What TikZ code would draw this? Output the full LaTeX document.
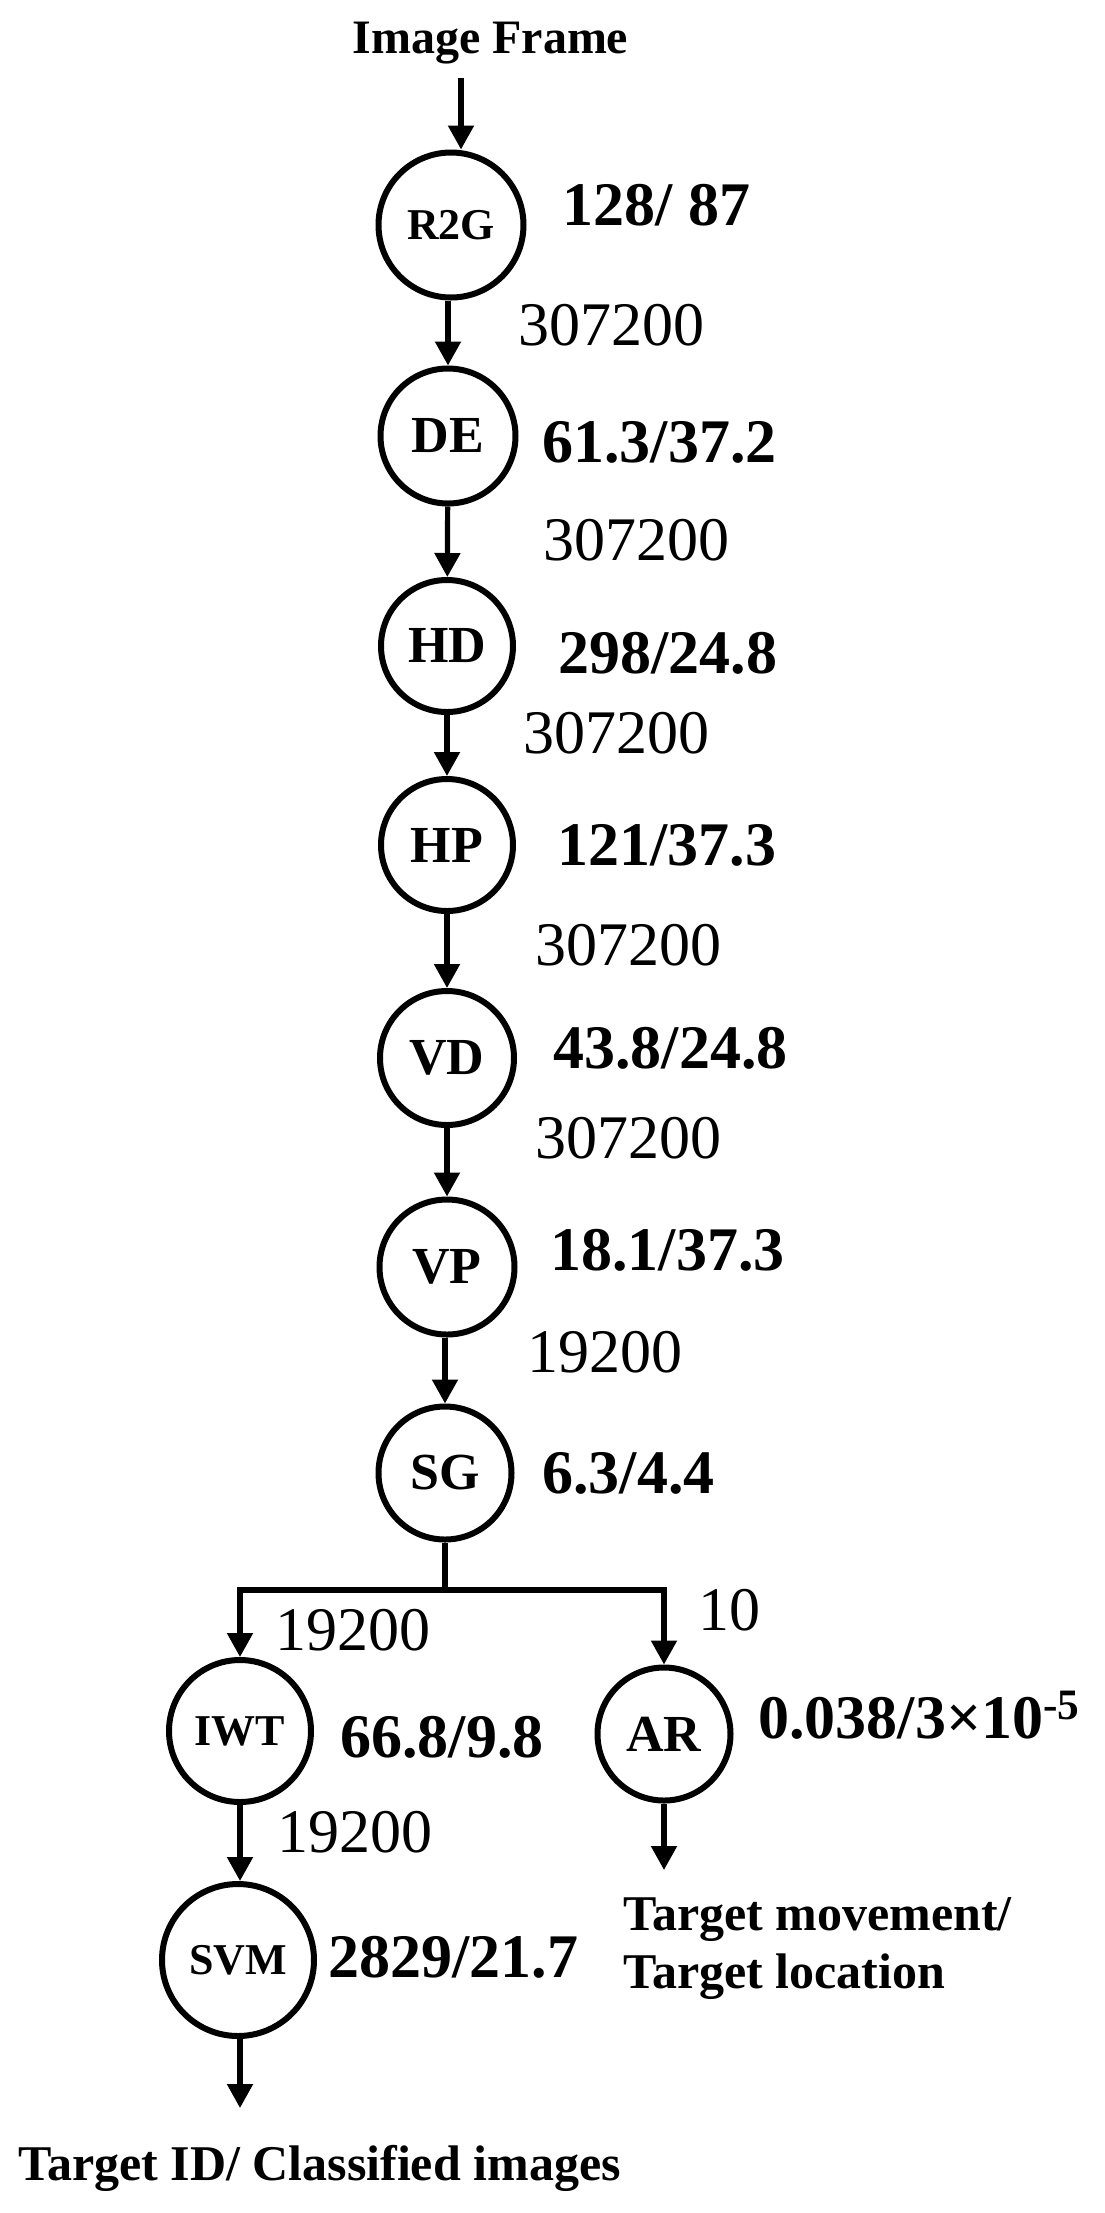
\documentclass[tikz,border=0pt]{standalone}
\usepackage{fontspec}
\setmainfont{Liberation Serif}
\usetikzlibrary{arrows.meta}
\begin{document}
\begin{tikzpicture}[x=0.5pt,y=-0.5pt,
  proc/.style={circle,draw,line width=3pt,inner sep=0pt,font=\fontsize{26}{30}\selectfont\bfseries},
  smalltxt/.style={font=\fontsize{22}{26}\selectfont\bfseries},
  ratio/.style={anchor=base west,inner sep=0pt,font=\fontsize{31}{36}\selectfont\bfseries},
  cnt/.style={anchor=base west,inner sep=0pt,font=\fontsize{31}{36}\selectfont},
  outtxt/.style={anchor=base west,inner sep=0pt,font=\fontsize{25}{29}\selectfont\bfseries},
  arr/.style={line width=2.6pt,-{Triangle[width=12.5pt,length=12pt]}},
  wire/.style={line width=2.8pt}]
\useasboundingbox (0,0) rectangle (1104,2213);

% title
\node[outtxt,font=\fontsize{24}{28}\selectfont\bfseries] (IF) at (352,53) {Image Frame};

% process nodes
\node[proc,smalltxt,minimum size=72.5pt] (R2G) at (451,225) {R2G};
\node[proc,minimum size=67.5pt] (DE) at (448,436) {DE};
\node[proc,minimum size=66pt] (HD) at (447,646) {HD};
\node[proc,minimum size=66pt] (HP) at (447,845) {HP};
\node[proc,minimum size=67pt] (VD) at (447,1058) {VD};
\node[proc,minimum size=67.5pt] (VP) at (447,1267) {VP};
\node[proc,minimum size=66.5pt] (SG) at (445,1473) {SG};
\node[proc,smalltxt,minimum size=71pt] (IWT) at (240,1731) {IWT};
\node[proc,minimum size=66.5pt] (AR) at (664,1734) {AR};
\node[proc,smalltxt,minimum size=76pt] (SVM) at (238,1960) {SVM};

% connectors
\coordinate (in) at (461,78);
\draw[arr] (in) -- (in |- R2G.north);
\draw[arr] (R2G.south -| DE) -- (DE.north);
\draw[arr] (DE) -- (HD);
\draw[arr] (HD) -- (HP);
\draw[arr] (HP) -- (VD);
\draw[arr] (VD) -- (VP);
\draw[arr] (VP.south -| SG) -- (SG.north);
\coordinate (br) at (445,1590);
\draw[wire] (SG.south) -- (br);
\draw[arr] (br) -| (IWT.north);
\draw[arr] (br) -| (AR.north);
\draw[arr] (IWT.south) -- (IWT.south |- SVM.north);
\coordinate (outL) at (240,2108);
\draw[arr] (SVM.south -| outL) -- (outL);
\coordinate (outR) at (664,1870);
\draw[arr] (AR.south) -- (outR);

% ratio labels
\node[ratio] (l1) at (562,225) {128/ 87};
\node[ratio] (l2) at (542,462) {61.3/37.2};
\node[ratio] (l3) at (558,673) {298/24.8};
\node[ratio] (l4) at (557,865) {121/37.3};
\node[ratio] (l5) at (553,1068) {43.8/24.8};
\node[ratio] (l6) at (550,1270) {18.1/37.3};
\node[ratio] (l7) at (542,1493) {6.3/4.4};
\node[ratio] (l8) at (340,1757) {66.8/9.8};
\node[ratio] (l9) at (758,1738) {0.038/3×10\textsuperscript{-5}};
\node[ratio] (l10) at (328,1977) {2829/21.7};

% data-size labels
\node[cnt] (c1) at (518,345) {307200};
\node[cnt] (c2) at (543,560) {307200};
\node[cnt] (c3) at (523,753) {307200};
\node[cnt] (c4) at (535,965) {307200};
\node[cnt] (c5) at (535,1158) {307200};
\node[cnt] (c6) at (527,1372) {19200};
\node[cnt] (c7) at (275,1650) {19200};
\node[cnt] (c8) at (698,1630) {10};
\node[cnt] (c9) at (277,1852) {19200};

% outputs
\node[outtxt] (o1) at (623,1930) {Target movement/};
\node[outtxt] (o2) at (623,1988) {Target location};
\node[outtxt] (o3) at (18,2180) {Target ID/ Classified images};
\end{tikzpicture}
\end{document}
